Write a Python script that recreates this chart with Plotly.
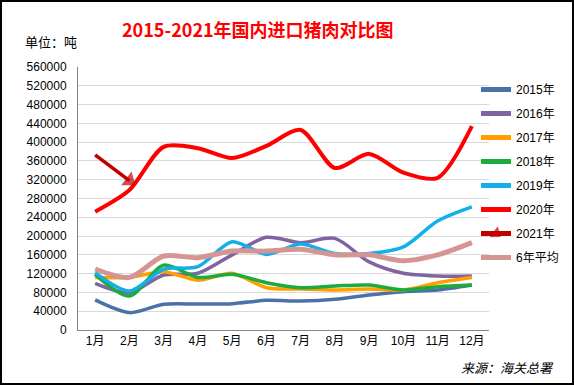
import plotly.graph_objects as go

months = ["1月", "2月", "3月", "4月", "5月", "6月", "7月", "8月", "9月", "10月", "11月", "12月"]

y2015 = [64000, 37000, 54700, 55300, 56000, 63200, 61700, 65300, 74500, 81600, 85200, 95800]
y2016 = [99400, 79500, 117000, 120700, 160000, 197300, 186000, 195000, 145000, 120700, 115000, 115000]
y2017 = [112000, 112000, 124000, 106000, 120700, 90000, 87300, 85200, 87300, 85200, 100800, 112000]
y2018 = [118500, 72400, 138000, 112000, 118500, 100800, 90000, 93700, 95800, 85200, 92300, 95800]
y2019 = [122000, 83000, 129200, 134800, 188000, 161000, 183000, 163000, 163000, 177000, 232000, 262000]
y2020 = [252000, 298000, 390000, 387000, 366000, 392000, 426000, 345000, 375000, 335000, 324000, 434000]
y2021 = [373000, 318000]
yavg = [129800, 112000, 157500, 154000, 168000, 168000, 172000, 160000, 160000, 147500, 160000, 186000]

series = [
    ("2015年", y2015, "#4A72A8", 3.5),
    ("2016年", y2016, "#8064A2", 3.5),
    ("2017年", y2017, "#FFA000", 3.5),
    ("2018年", y2018, "#1EAA3C", 3.5),
    ("2019年", y2019, "#12B0E8", 3.5),
    ("2020年", y2020, "#FF0000", 4),
]

font_fam = "Liberation Sans, Noto Sans CJK SC, sans-serif"
fig = go.Figure()
for i, (name, ys, col, w) in enumerate(series):
    fig.add_trace(go.Scatter(
        x=months[:len(ys)], y=ys, name=name, mode="lines",
        line=dict(color=col, width=w, shape="spline", smoothing=0.8),
        legendgroup=name,
    ))

fig.add_trace(go.Scatter(
    x=months[:len(y2021)], y=y2021, name="2021年", mode="lines+markers",
    line=dict(color="#C00000", width=3.5),
    marker=dict(symbol="triangle-right", angle=37, size=[0, 15], color="#C00000",
                line=dict(width=0)),
    legendgroup="2021年",
))
fig.add_trace(go.Scatter(
    x=months, y=yavg, name="6年平均", mode="lines",
    line=dict(color="#D59593", width=5, shape="spline", smoothing=0.8),
    legendgroup="avg",
))

L, R, T, B = 78, 489, 67, 330
W, H = 574, 385

def px_x(p):
    return (p - L) / (R - L)

def px_y(p):
    return (B - p) / (B - T)

fig.update_layout(
    width=W, height=H,
    margin=dict(l=L, r=W - R, t=T, b=H - B, autoexpand=False),
    paper_bgcolor="white", plot_bgcolor="white",
    font=dict(family=font_fam, size=12, color="#000"),
    showlegend=True,
    legend=dict(x=px_x(476), y=px_y(75), xanchor="left", yanchor="top",
                font=dict(size=12, family=font_fam), bgcolor="rgba(0,0,0,0)",
                tracegroupgap=5, itemwidth=30, itemsizing="constant"),
    xaxis=dict(type="category", range=[-0.5, len(months) - 0.5], showgrid=False,
               showline=True, linecolor="#868686", linewidth=1, ticks="",
               tickfont=dict(size=12), fixedrange=True, automargin=False),
    yaxis=dict(range=[0, 560000], dtick=40000, tickformat="d", showgrid=True,
               gridcolor="#D9D9D9", gridwidth=1, showline=True, linecolor="#868686",
               linewidth=1, ticks="", tickfont=dict(size=12), zeroline=False,
               automargin=False, ticklabelstandoff=8, fixedrange=True),
    shapes=[dict(type="rect", xref="paper", yref="paper",
                 x0=px_x(1), x1=px_x(573), y0=px_y(384), y1=px_y(1),
                 line=dict(color="black", width=2), fillcolor="rgba(0,0,0,0)", layer="above")],
    annotations=[
        dict(text="<b>2015-2021年国内进口猪肉对比图</b>", xref="paper", yref="paper",
             x=px_x(258), y=px_y(29), xanchor="center", yanchor="middle", showarrow=False,
             font=dict(size=18, color="#FF0000", family="Noto Sans CJK SC, sans-serif")),
        dict(text="单位：吨", xref="paper", yref="paper", x=px_x(23), y=px_y(42),
             xanchor="left", yanchor="middle", showarrow=False,
             font=dict(size=13, color="#000", family="Noto Sans CJK SC, sans-serif")),
        dict(text="<i>来源：海关总署</i>", xref="paper", yref="paper", x=px_x(556), y=px_y(367),
             xanchor="right", yanchor="middle", showarrow=False,
             font=dict(size=13, color="#000", family="Noto Sans CJK SC, sans-serif")),
    ],
)

fig.write_html("out.html", post_script="document.body.style.margin='0';",
               config={"displayModeBar": False})
